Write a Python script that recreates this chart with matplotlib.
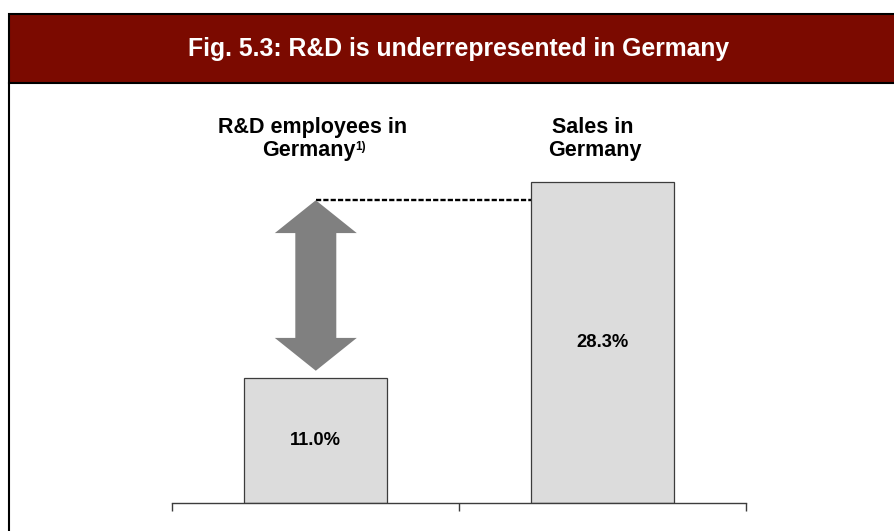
import matplotlib
matplotlib.use("Agg")
import matplotlib.pyplot as plt
from matplotlib.patches import Rectangle, Polygon
from matplotlib.lines import Line2D

plt.rcParams['font.family'] = ['Liberation Sans', 'DejaVu Sans']

# data
title = "Fig. 5.3: R&D is underrepresented in Germany"
labels_line1 = ["R&D employees in", "Sales in"]
labels_line2 = ["Germany", "Germany"]
footnotes = ["1)", ""]
values = [11.0, 28.3]
value_labels = ["11.0%", "28.3%"]

W, H = 895, 531
fig = plt.figure(figsize=(W / 100, H / 100), dpi=100)

# frame: dark red header bar and the box below
fig.patches.append(Rectangle((9 / W, 1 - 83 / H), 1.2, 69 / H, transform=fig.transFigure,
                             facecolor='#7b0a00', edgecolor='black', linewidth=1.5))
fig.lines.append(Line2D([9 / W, 9 / W], [0, 1 - 83 / H], transform=fig.transFigure,
                        color='black', linewidth=1.5))
fig.text(458.5 / W, 1 - 49 / H, title, color='white', fontsize=17.8, fontweight='bold',
         ha='center', va='center')

ax = fig.add_axes([172.5 / W, 28.5 / H, 573.2 / W, 339.6 / H])
x = list(range(len(values)))
ax.bar(x, values, width=0.5, color='#dcdcdc', edgecolor='#3c3c3c', linewidth=0.9, zorder=2)
ax.set_xlim(-0.5, 1.5)
ax.set_ylim(0, 30)

for s in ['top', 'left', 'right']:
    ax.spines[s].set_visible(False)
ax.spines['bottom'].set_color('#3c3c3c')
ax.spines['bottom'].set_linewidth(1.0)
ax.set_yticks([])
ax.set_xticks([-0.5, 0.5, 1.5])
ax.set_xticklabels([])
ax.tick_params(axis='x', direction='out', length=5.5, width=1.0, color='#3c3c3c')

# value labels inside the bars
for xi, v, lab in zip(x, values, value_labels):
    ax.text(xi, v / 2, lab, ha='center', va='center', fontsize=13.2, fontweight='bold')

# category labels above the plot
offsets = [-0.012, -0.035]
for xi, l1, l2, fn, off in zip(x, labels_line1, labels_line2, footnotes, offsets):
    ax.text(xi + off, 32.6, l1, ha='center', va='baseline', fontsize=15.5, fontweight='bold')
    t = ax.text(xi + off - (0.012 if fn else -0.01), 30.6, l2, ha='center', va='baseline',
                fontsize=15.5, fontweight='bold')
    if fn:
        ax.annotate(fn, xy=(1, 1), xycoords=t, xytext=(-0.3, -1.0), textcoords='offset points',
                    ha='left', va='top', fontsize=8.5, fontweight='bold')

# double arrow showing the gap, and dashed guide to the sales bar
top = values[1] - 1.6
bottom = values[0] + 0.64
head = 2.9
hw, sw = 0.143, 0.0715
ax_x = x[0]
arrow = Polygon([(ax_x, top), (ax_x + hw, top - head), (ax_x + sw, top - head),
                 (ax_x + sw, bottom + head), (ax_x + hw, bottom + head), (ax_x, bottom),
                 (ax_x - hw, bottom + head), (ax_x - sw, bottom + head),
                 (ax_x - sw, top - head), (ax_x - hw, top - head)],
                closed=True, facecolor='#808080', edgecolor='none', zorder=3)
ax.add_patch(arrow)
ax.plot([ax_x, x[1] - 0.25], [top, top], color='black', linewidth=1.7,
        linestyle=(0, (2.2, 0.9)), zorder=1)

fig.savefig('out.png', dpi=100)
